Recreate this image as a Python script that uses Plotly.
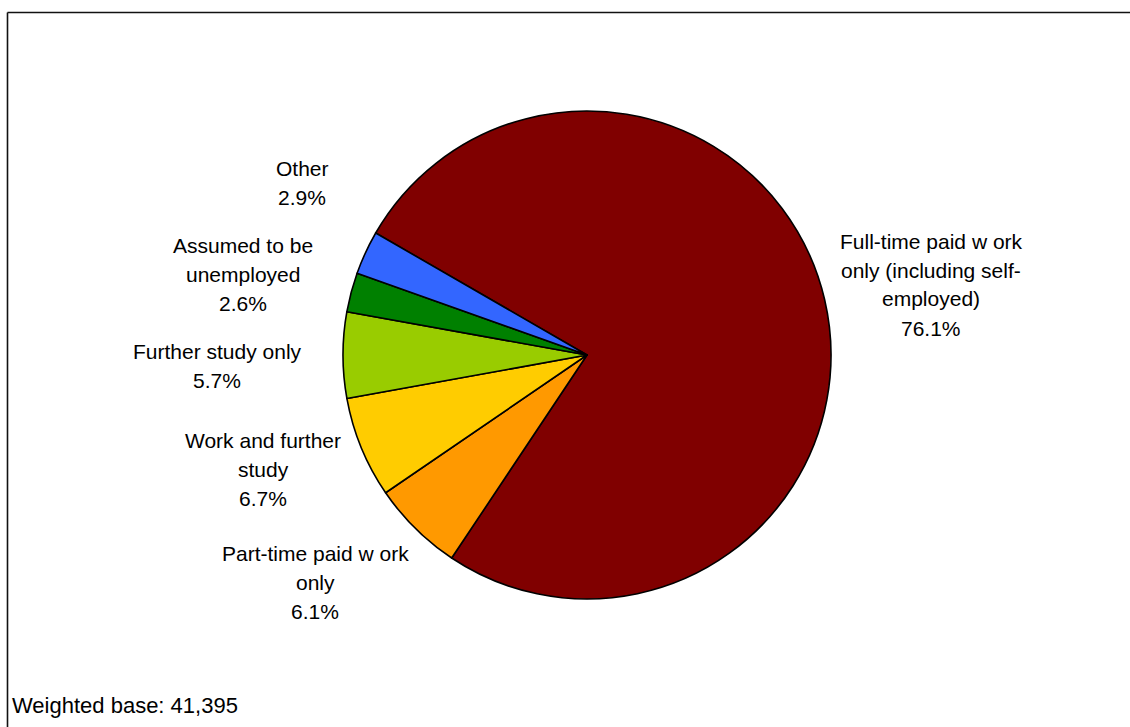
import plotly.graph_objects as go

# Destination of graduates: shares in percent, in the order the slices run clockwise
categories = [
    "Full-time paid w ork only (including self-employed)",
    "Part-time paid w ork only",
    "Work and further study",
    "Further study only",
    "Assumed to be unemployed",
    "Other",
]
shares = [76.1, 6.1, 6.7, 5.7, 2.6, 2.9]

# How each category name wraps in its label
label_lines = [
    ["Full-time paid w ork", "only (including self-", "employed)"],
    ["Part-time paid w ork", "only"],
    ["Work and further", "study"],
    ["Further study only"],
    ["Assumed to be", "unemployed"],
    ["Other"],
]
weighted_base = 41395

slice_colors = ["#800000", "#FF9900", "#FFCC00", "#99CC00", "#008000", "#3366FF"]

# Canvas and pie geometry (pixels)
W, H = 1130, 727
CX, CY, R = 587, 355, 244
FONT = "Liberation Sans, Arial, sans-serif"
FSIZE = 21
LINE_GAP = 29

# Centre of the first text line of each label (pixels from top-left)
label_anchor = [
    (931, 241),
    (315, 553),
    (263, 440),
    (217, 351),
    (243, 245),
    (302, 168),
]

fig = go.Figure(
    go.Pie(
        labels=categories,
        values=shares,
        sort=False,
        direction="clockwise",
        rotation=-60,
        marker=dict(colors=slice_colors, line=dict(color="black", width=1.6)),
        textinfo="none",
        hoverinfo="label+value",
        showlegend=False,
        domain=dict(
            x=[(CX - R) / W, (CX + R) / W],
            y=[(H - CY - R) / H, (H - CY + R) / H],
        ),
    )
)

annotations = []
for lines, val, (ax, ay) in zip(label_lines, shares, label_anchor):
    for i, line in enumerate(lines + [f"{val:.1f}%"]):
        annotations.append(
            dict(
                x=ax / W,
                y=1 - (ay + i * LINE_GAP) / H,
                xref="paper",
                yref="paper",
                text=line,
                showarrow=False,
                xanchor="center",
                yanchor="middle",
                font=dict(family=FONT, size=FSIZE, color="black"),
            )
        )

annotations.append(
    dict(
        x=10 / W,
        y=1 - 705 / H,
        xref="paper",
        yref="paper",
        text=f"Weighted base: {weighted_base:,}",
        showarrow=False,
        xanchor="left",
        yanchor="middle",
        font=dict(family=FONT, size=22, color="black"),
    )
)

# Chart-area frame: left and top edges
shapes = [
    dict(type="line", xref="paper", yref="paper",
         x0=7.5 / W, x1=7.5 / W, y0=0, y1=1 - 12.5 / H,
         line=dict(color="#111111", width=1.6)),
    dict(type="line", xref="paper", yref="paper",
         x0=7.5 / W, x1=1, y0=1 - 12.5 / H, y1=1 - 12.5 / H,
         line=dict(color="#111111", width=1.6)),
]

fig.update_layout(
    width=W,
    height=H,
    autosize=False,
    margin=dict(l=0, r=0, t=0, b=0),
    paper_bgcolor="white",
    plot_bgcolor="white",
    annotations=annotations,
    shapes=shapes,
    font=dict(family=FONT, size=FSIZE, color="black"),
)

fig.write_html("out.html")
